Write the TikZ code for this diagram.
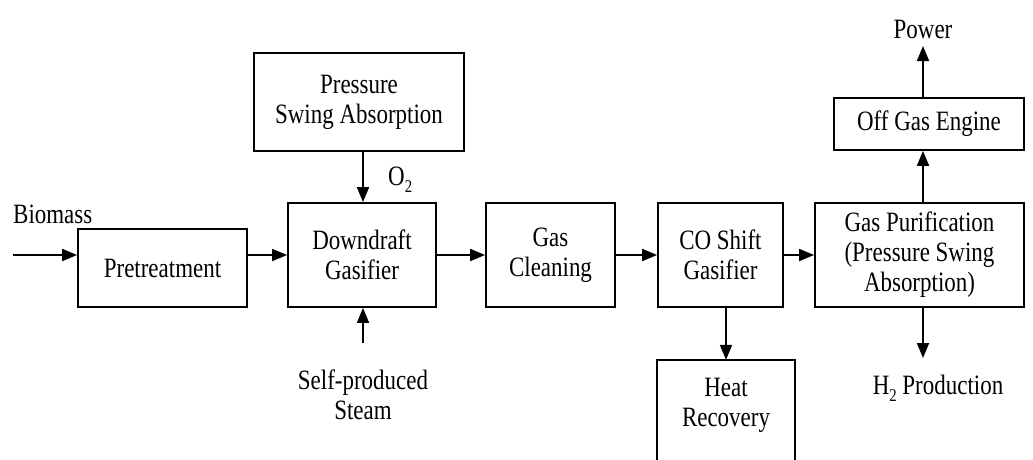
\documentclass[tikz,border=0pt]{standalone}
\usepackage{fontspec}
\setmainfont{Liberation Serif}[FakeStretch=0.82]
\usetikzlibrary{arrows.meta,calc}
\newcommand{\mysub}[1]{\raisebox{-0.25em}{\fontsize{18}{18}\selectfont #1}}
\begin{document}
\begin{tikzpicture}[x=1pt,y=-1pt,
  box/.style={draw=black, line width=1.8pt, rectangle, align=center, inner sep=0pt,
    font=\fontsize{28}{30}\selectfont, text=black},
  lbl/.style={align=center, inner sep=0pt, font=\fontsize{28}{30}\selectfont, text=black},
  flow/.style={line width=1.8pt, -{Triangle[length=15pt,width=12pt]}}]
\useasboundingbox (0,0) rectangle (1033,459);
\clip (0,0) rectangle (1033,459);
\fill[white] (0,0) rectangle (1033,459);
% boxes
\node[box, minimum width=169pt, minimum height=78pt] (pre) at (162.5,268) {Pretreatment};
\node[box, minimum width=210pt, minimum height=98pt] (psa) at (359,102) {Pressure\\Swing Absorption};
\node[box, minimum width=148pt, minimum height=104pt] (dg) at (362,255) {Downdraft\\Gasifier};
\node[box, minimum width=129pt, minimum height=104pt] (gc) at (550.5,255) {Gas\\Cleaning};
\node[box, minimum width=125pt, minimum height=104pt] (co) at (720.5,255) {CO Shift\\Gasifier};
\node[box, minimum width=209pt, minimum height=104pt] (gp) at (919.5,255) {Gas Purification\\(Pressure Swing\\Absorption)};
\node[box, minimum width=190pt, minimum height=52pt] (oge) at (929,124) {Off Gas Engine};
\node[lbl, minimum width=138pt, minimum height=90pt] (hr) at (726,405) {Heat\\Recovery};
\draw[line width=1.8pt] ($(hr.south west)+(0,40)$) -- (hr.north west) -- (hr.north east) -- ($(hr.south east)+(0,40)$);
% labels
\node[lbl, anchor=west] (bio) at (13,214) {Biomass};
\node[lbl, anchor=west] (o2) at (388,180) {O\mysub{2}};
\node[lbl] (steam) at (363,395) {Self-produced\\Steam};
\node[lbl] (h2) at (938,388) {H\mysub{2} Production};
\node[lbl] (power) at (923,29) {Power};
% coordinates
\coordinate (bioin) at (13,255);
\coordinate (steamtop) at (363,343);
\coordinate (h2top) at (923,358);
% connectors
\draw[flow] (bioin) -- (bioin -| pre.west);
\draw[flow] (bioin -| pre.east) -- (bioin -| dg.west);
\draw[flow] (psa.south -| steamtop) -- (dg.north -| steamtop);
\draw[flow] (steamtop) -- (dg.south -| steamtop);
\draw[flow] (dg.east) -- (gc.west);
\draw[flow] (gc.east) -- (co.west);
\draw[flow] (co.east) -- (gp.west);
\draw[flow] (co.south -| hr.north) -- (hr.north);
\draw[flow] (gp.south -| h2top) -- (h2top);
\draw[flow] (gp.north -| h2top) -- (oge.south -| h2top);
\draw[flow] (oge.north -| h2top) -- (h2top |- 0,46);
\end{tikzpicture}
\end{document}
